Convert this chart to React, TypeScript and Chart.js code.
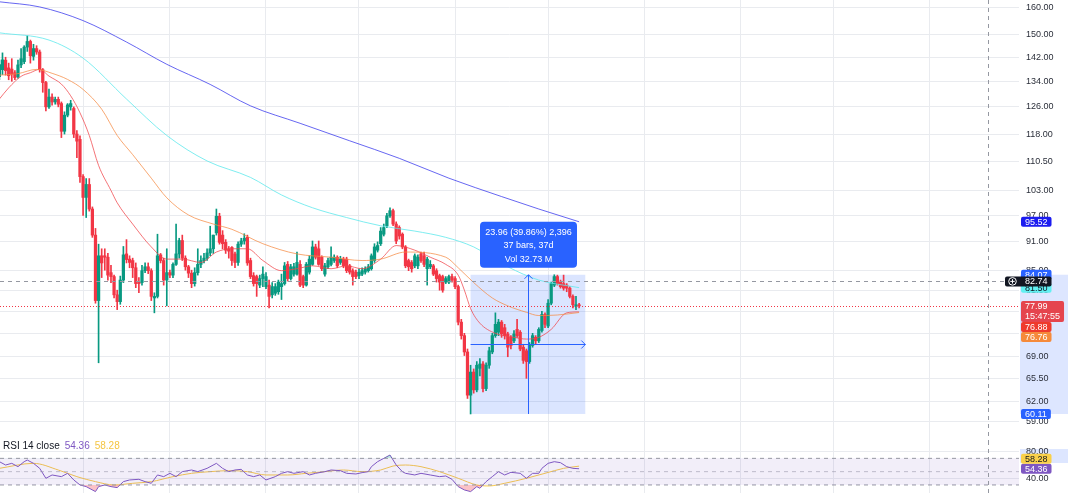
import React, { useEffect, useRef } from 'react';
import { Chart, registerables } from 'chart.js';

Chart.register(...registerables);

const FONT = "'Liberation Sans', Arial, sans-serif";
Chart.defaults.font.family = FONT;

// bar index = days relative to Feb 1
const FIRST_BAR = -27;

// [open, high, low, close]
const janBars: number[][] = [
  [135.5, 141.0, 134.5, 139.5], [137.8, 143.5, 136.2, 141.1], [141.0, 142.0, 136.0, 137.5],
  [138.4, 140.0, 134.5, 135.8], [138.0, 141.5, 134.0, 136.3], [136.8, 137.5, 134.5, 135.2],
  [135.5, 141.0, 135.0, 139.4], [139.4, 145.0, 138.5, 141.5], [140.5, 146.0, 139.8, 145.5],
  [145.5, 149.5, 144.0, 147.5], [147.5, 148.0, 140.0, 142.5], [142.3, 146.5, 141.0, 145.0],
  [145.0, 146.0, 143.0, 143.8], [143.8, 144.5, 137.0, 137.8], [137.8, 138.2, 130.5, 133.6],
  [133.6, 134.0, 124.8, 126.0], [126.0, 131.5, 125.5, 129.0], [129.0, 130.0, 126.5, 127.5],
  [127.5, 129.0, 126.8, 128.3], [128.3, 129.0, 126.0, 126.8], [127.0, 127.5, 117.0, 118.8],
  [118.8, 124.5, 118.0, 123.5], [123.5, 127.0, 123.0, 126.6], [126.0, 128.0, 125.0, 127.0],
  [125.5, 126.0, 117.0, 118.0], [118.0, 119.0, 111.5, 116.0], [116.5, 117.5, 105.0, 106.5],
];
const febBars: number[][] = [
  [106.5, 107.0, 97.0, 101.3], [101.3, 106.0, 96.5, 104.5], [104.5, 106.0, 98.0, 98.5],
  [98.5, 99.0, 92.0, 92.5], [92.5, 94.0, 78.5, 79.0], [79.0, 90.5, 68.0, 88.0],
  [88.0, 89.5, 83.5, 86.5], [88.0, 89.5, 85.0, 87.7], [87.7, 88.5, 83.0, 84.0],
  [84.5, 86.0, 82.5, 83.7], [83.7, 84.0, 79.5, 80.1], [80.1, 81.0, 77.3, 78.8],
  [78.8, 83.8, 78.3, 83.0], [83.0, 90.0, 82.5, 88.2], [88.4, 91.5, 86.5, 87.2],
  [87.3, 88.0, 85.5, 86.6], [87.0, 87.5, 83.5, 85.5], [85.5, 86.5, 81.5, 82.3],
  [82.6, 83.5, 80.5, 82.3], [82.5, 86.0, 82.0, 84.9], [84.9, 86.5, 84.5, 85.7],
  [85.7, 86.5, 84.3, 84.9], [84.9, 85.3, 79.0, 79.8], [79.5, 80.5, 76.7, 79.8],
  [79.8, 92.7, 79.5, 88.0], [88.2, 88.5, 86.5, 87.0], [87.0, 87.5, 82.0, 83.0],
  [83.0, 89.5, 78.0, 84.5],
];
const marBars: number[][] = [
  [84.5, 85.0, 83.5, 84.0], [84.0, 86.5, 83.5, 86.2], [86.2, 95.0, 86.0, 88.4],
  [88.4, 91.8, 87.5, 91.3], [91.3, 92.5, 87.0, 87.5], [87.5, 88.0, 85.0, 85.7],
  [85.7, 86.0, 83.5, 84.4], [84.4, 85.0, 81.5, 82.3], [82.3, 85.5, 81.8, 84.5],
  [84.5, 89.5, 84.0, 86.2], [86.2, 88.0, 85.5, 87.0], [87.0, 88.5, 86.5, 87.5],
  [87.5, 89.5, 87.0, 88.6], [88.6, 94.5, 88.0, 89.5], [89.5, 92.5, 88.5, 92.5],
  [93.0, 98.5, 92.5, 96.8], [96.8, 97.5, 90.5, 90.9], [92.5, 93.5, 89.5, 90.6],
  [90.9, 91.5, 88.5, 89.2], [89.5, 90.0, 87.5, 89.0], [89.8, 90.0, 86.0, 87.0],
  [88.4, 88.8, 85.5, 86.6], [86.6, 91.0, 86.0, 90.5], [90.5, 91.8, 90.0, 91.2],
  [91.2, 92.8, 90.5, 91.8], [92.0, 92.5, 86.0, 86.5], [87.0, 87.5, 83.3, 83.7],
  [83.9, 84.5, 81.8, 82.3], [83.7, 84.0, 79.8, 82.3], [82.0, 84.0, 81.5, 83.3],
  [83.3, 85.7, 81.7, 84.2],
];
const aprBars: number[][] = [
  [81.7, 84.5, 81.3, 83.7], [82.0, 83.0, 77.6, 79.8], [80.1, 82.5, 79.5, 81.7],
  [80.4, 82.3, 80.0, 81.7], [80.7, 83.0, 80.2, 82.6], [81.7, 84.2, 79.2, 82.3],
  [82.3, 86.6, 82.0, 85.9], [86.2, 86.8, 82.8, 83.3], [83.3, 86.2, 83.0, 85.7],
  [84.2, 86.4, 83.8, 85.7], [84.2, 88.8, 84.0, 86.6], [86.2, 87.0, 81.7, 82.0],
  [83.7, 84.0, 81.5, 82.0], [82.0, 86.6, 81.8, 86.2], [84.6, 88.0, 84.2, 87.3],
  [86.2, 91.2, 86.0, 89.9], [89.9, 90.5, 87.3, 87.7], [89.5, 91.2, 86.0, 86.2],
  [87.7, 88.0, 84.9, 85.3], [84.2, 86.4, 83.8, 85.9], [85.7, 87.5, 85.3, 87.0],
  [86.2, 89.9, 85.9, 87.7], [87.0, 88.2, 86.6, 87.7], [87.7, 88.0, 85.5, 85.9],
  [86.6, 87.9, 86.2, 87.3], [87.3, 87.7, 85.5, 85.9], [87.3, 87.7, 84.5, 84.9],
  [85.9, 86.2, 84.2, 84.6], [84.9, 85.3, 82.0, 83.7], [84.6, 85.0, 83.3, 83.7],
];
const mayBars: number[][] = [
  [83.9, 85.3, 83.3, 84.6], [84.2, 85.5, 83.9, 84.9], [84.6, 85.7, 84.2, 85.3],
  [84.9, 86.2, 84.6, 85.7], [85.3, 88.4, 85.0, 88.0], [87.0, 90.6, 86.6, 89.9],
  [89.2, 91.0, 88.8, 90.2], [90.6, 94.2, 90.2, 93.4], [92.7, 95.0, 92.3, 94.2],
  [94.6, 97.5, 94.2, 96.9], [96.9, 98.8, 96.5, 98.1], [98.1, 98.5, 94.6, 95.0],
  [95.0, 95.5, 90.6, 91.2], [94.2, 94.6, 91.6, 92.3], [92.7, 93.0, 89.5, 89.9],
  [89.9, 90.2, 85.5, 85.9], [87.0, 87.3, 84.9, 85.7], [86.6, 87.0, 84.6, 85.3],
  [85.9, 88.4, 85.5, 88.0], [85.9, 88.2, 85.3, 87.7], [88.4, 88.8, 86.6, 87.0],
  [88.0, 88.8, 85.7, 86.2], [85.3, 87.7, 82.0, 87.3], [85.7, 87.0, 85.3, 86.2],
  [85.9, 86.2, 83.9, 84.2], [84.9, 85.3, 82.6, 83.3], [83.9, 84.2, 81.0, 82.6],
  [83.7, 84.0, 80.6, 81.0], [82.6, 83.7, 82.3, 83.3], [82.6, 84.0, 82.3, 83.7],
  [83.7, 84.2, 82.6, 83.0],
];
const junBars: number[][] = [
  [83.3, 83.7, 81.3, 81.7], [81.7, 82.0, 74.5, 75.0], [75.0, 75.5, 72.0, 72.6],
  [72.6, 73.0, 69.2, 69.8], [69.8, 70.3, 62.4, 62.9], [62.9, 67.6, 60.11, 66.5],
  [66.5, 67.0, 63.2, 63.7], [63.7, 68.2, 63.4, 67.6], [67.1, 68.7, 65.9, 67.8],
  [67.8, 68.2, 63.4, 63.9], [63.9, 68.0, 63.6, 67.6], [67.6, 70.6, 67.1, 70.0],
  [69.8, 73.0, 69.5, 72.6], [72.6, 76.7, 72.3, 74.6], [73.2, 75.5, 72.6, 75.0],
  [75.0, 75.3, 72.3, 72.9], [74.0, 74.6, 72.0, 72.6], [72.9, 73.2, 69.0, 70.6],
  [72.3, 72.6, 70.3, 70.9], [71.7, 73.5, 71.4, 72.9], [73.7, 75.5, 72.3, 72.6],
  [73.2, 73.5, 70.0, 70.3], [70.6, 71.1, 67.9, 68.4], [70.0, 70.3, 65.5, 68.2],
  [68.2, 71.4, 67.9, 70.9], [70.9, 73.0, 70.6, 72.6], [72.3, 72.6, 71.1, 71.7],
  [71.7, 74.0, 71.4, 73.7], [73.5, 77.0, 73.2, 76.4], [76.4, 76.7, 74.0, 74.6],
];
const julBars: number[][] = [
  [74.3, 79.2, 74.0, 78.5], [78.5, 82.6, 78.2, 82.3], [82.0, 84.07, 81.7, 83.7],
  [83.7, 84.0, 82.0, 82.3], [82.6, 83.0, 81.4, 81.7], [82.3, 84.0, 81.0, 81.4],
  [82.0, 82.3, 80.7, 81.4], [81.4, 81.7, 79.5, 79.8], [79.8, 80.1, 77.6, 78.2],
  [77.9, 79.8, 77.3, 78.2], [78.2, 78.5, 77.6, 77.99],
];

// moving averages: [bar index, value]
const ema20: number[][] = [
  [-27, 128.4], [-24, 131.9], [-20, 135.6], [-17, 136.8], [-14, 137.9], [-11, 135.7], [-7, 133.1],
  [-4, 129.4], [-1, 124.2], [2, 117.6], [5, 109.4], [9, 103.0], [11, 100.0], [16, 95.0], [22, 89.9],
  [27, 87.3], [32, 87.3], [38, 86.6], [43, 88.8], [48, 89.5], [53, 89.5], [58, 87.0], [64, 84.9],
  [69, 85.3], [74, 85.9], [80, 85.3], [85, 85.9], [90, 85.3], [96, 87.3], [101, 90.2], [107, 89.2],
  [112, 87.7], [117, 86.2], [121, 84.0], [123, 81.0], [125, 77.5], [128, 74.8], [133, 73.0],
  [139, 72.3], [143, 72.0], [147, 72.3], [151, 73.7], [156, 76.7], [160, 76.88],
];
const ema50: number[][] = [
  [-27, 136.0], [-21, 136.5], [-15, 137.9], [-10, 136.6], [-5, 134.6], [0, 131.4], [6, 125.3],
  [11, 117.6], [16, 112.3], [22, 106.1], [27, 101.2], [34, 97.1], [42, 95.0], [48, 93.8], [58, 90.6],
  [69, 88.4], [80, 87.7], [90, 87.0], [96, 87.3], [104, 88.8], [117, 87.7], [121, 85.5], [126, 82.5],
  [132, 79.5], [137, 78.0], [143, 76.8], [147, 76.2], [153, 76.3], [160, 76.76],
];
const ema100: number[][] = [
  [-27, 150.6], [-11, 148.0], [0, 141.7], [14, 128.4], [27, 117.6], [40, 110.6], [54, 106.3],
  [64, 101.9], [74, 98.8], [85, 96.5], [96, 94.6], [107, 93.4], [117, 92.0], [126, 89.9],
  [137, 85.7], [147, 83.0], [160, 81.5],
];
const ema200: number[][] = [
  [-27, 162.3], [-14, 160.3], [0, 155.1], [14, 147.3], [27, 139.6], [41, 133.0], [54, 126.3],
  [70, 121.1], [86, 116.1], [102, 111.3], [118, 106.1], [135, 101.5], [147, 98.5], [160, 95.52],
];

// RSI 14 and its moving average: [bar index, value]
const rsi14: number[][] = [
  [-27, 65], [-25, 60], [-23, 62.5], [-21, 57.5], [-19, 65], [-18, 67.5], [-16, 62.5], [-14, 55],
  [-12, 40], [-10, 45], [-7, 42.5], [-5, 47.5], [-3, 37.5], [-1, 30], [1, 27.5], [4, 20], [5, 27.5],
  [7, 30], [9, 27.5], [11, 26], [13, 35], [15, 37.5], [18, 38.5], [20, 35], [22, 32.5], [24, 45],
  [26, 42.5], [28, 47.5], [30, 42.5], [32, 50], [35, 52.5], [37, 50], [40, 55], [43, 62.5], [45, 55],
  [47, 50], [49, 52.5], [51, 53.5], [53, 45], [55, 42.5], [57, 45], [59, 37.5], [62, 42.5], [64, 47.5],
  [66, 50], [68, 47.5], [71, 50], [73, 45], [75, 47.5], [78, 50], [80, 52.5], [83, 51.5], [85, 47.5],
  [88, 46.5], [90, 48.5], [92, 50], [93, 57.5], [95, 65], [97, 70], [99, 75], [101, 60], [103, 50],
  [104, 47.5], [107, 45], [109, 47.5], [112, 45], [115, 42.5], [117, 43.5], [119, 38.5], [121, 27.5],
  [123, 22.5], [125, 20], [127, 27.5], [128, 25], [130, 35], [132, 42.5], [134, 50], [136, 45],
  [138, 49], [141, 47.5], [143, 40], [145, 47.5], [147, 47.5], [148, 55], [150, 62.5], [152, 65],
  [154, 63.5], [156, 57.5], [158, 55], [160, 54.36],
];
const rsiMa: number[][] = [
  [-27, 55], [-16, 62.5], [-8, 52.5], [-2, 42.5], [4, 35], [10, 30], [16, 32.5], [22, 35], [29, 42.5],
  [35, 47.5], [41, 50], [47, 51.5], [53, 50], [59, 45], [66, 45], [72, 47.5], [78, 50], [84, 52.5],
  [90, 50], [96, 52.5], [100, 58.5], [104, 60], [109, 57.5], [115, 50], [121, 40], [127, 30],
  [131, 28.5], [136, 32.5], [143, 40], [149, 47.5], [155, 55], [160, 58.28],
];

const monthStarts = [0, 28, 59, 89, 120, 150, 181, 212, 242, 273];
const priceTicks = [160, 150, 142, 134, 126, 118, 110.5, 103, 97, 91, 85, 81, 77, 73, 69, 65.5, 62, 59];
const rsiTicks = [80, 40];
const rsiBands = [70, 50, 30];

const X_MIN = -26.8;
const X_MAX = 301.9;
const PRICE_MIN = 56.32;
const PRICE_MAX = 163.0;
const RSI_MIN = 17.9;
const RSI_MAX = 96.1;

const LAST_PRICE = 77.99;
const LAST_TIME = '15:47:55';
const CROSS_BAR = 292;
const CROSS_PRICE = 82.74;
const MEASURE_FROM = 125;
const MEASURE_TO = 162;
const MEASURE_LOW = 60.11;
const MEASURE_HIGH = 84.07;
const MEASURE_TEXT = ['23.96 (39.86%) 2,396', '37 bars, 37d', 'Vol 32.73 M'];
const RSI_VALUE = 54.36;
const RSI_MA_VALUE = 58.28;

const UP = '#089981';
const DOWN = '#f23645';
const GRID = '#e9ebef';
const AXIS_TEXT = '#2a2e39';
const MEASURE_BLUE = '#2962ff';

const bars = [...janBars, ...febBars, ...marBars, ...aprBars, ...mayBars, ...junBars, ...julBars];

function rr(ctx: CanvasRenderingContext2D, x: number, y: number, w: number, h: number, r: number) {
  ctx.beginPath();
  ctx.moveTo(x + r, y);
  ctx.lineTo(x + w - r, y);
  ctx.quadraticCurveTo(x + w, y, x + w, y + r);
  ctx.lineTo(x + w, y + h - r);
  ctx.quadraticCurveTo(x + w, y + h, x + w - r, y + h);
  ctx.lineTo(x + r, y + h);
  ctx.quadraticCurveTo(x, y + h, x, y + h - r);
  ctx.lineTo(x, y + r);
  ctx.quadraticCurveTo(x, y, x + r, y);
  ctx.closePath();
}

function drawBox(ctx: CanvasRenderingContext2D, x: number, top: number, lines: string[], bg: string, fg: string, extraLeft = 0) {
  ctx.font = `9px ${FONT}`;
  const w = Math.max(...lines.map((l) => ctx.measureText(l).width)) + 8;
  const h = lines.length * 10 + (lines.length > 1 ? 1 : 0);
  ctx.fillStyle = bg;
  rr(ctx, x - extraLeft, top, w + extraLeft, h, 2);
  ctx.fill();
  ctx.fillStyle = fg;
  ctx.textAlign = 'left';
  ctx.textBaseline = 'middle';
  lines.forEach((l, k) => ctx.fillText(l, x + 4, top + 5.5 + k * 10));
}

type Lab = { v: number; lines: string[]; bg: string; fg: string; top?: number };

function layoutLabels(scale: any, labs: Lab[], dir: 'down' | 'up') {
  labs.forEach((l) => {
    l.top = scale.getPixelForValue(l.v) - 5;
  });
  const h = (l: Lab) => l.lines.length * 10 + (l.lines.length > 1 ? 1 : 0);
  if (dir === 'down') {
    labs.sort((a, b) => (a.top as number) - (b.top as number));
    for (let k = 1; k < labs.length; k++) {
      const prevBottom = (labs[k - 1].top as number) + h(labs[k - 1]);
      if ((labs[k].top as number) < prevBottom) labs[k].top = prevBottom;
    }
  } else {
    labs.sort((a, b) => (b.top as number) - (a.top as number));
    for (let k = 1; k < labs.length; k++) {
      const prevTop = labs[k - 1].top as number;
      if ((labs[k].top as number) + h(labs[k]) > prevTop) labs[k].top = prevTop - h(labs[k]);
    }
  }
  return labs;
}

function dashedV(chart: any, value: number) {
  const { ctx, scales } = chart;
  const x = Math.round(scales.x.getPixelForValue(value)) + 0.5;
  ctx.save();
  ctx.strokeStyle = '#9598a1';
  ctx.lineWidth = 1;
  ctx.setLineDash([4, 4]);
  ctx.beginPath();
  ctx.moveTo(x, 0);
  ctx.lineTo(x, chart.height);
  ctx.stroke();
  ctx.restore();
}

const mainOverlay = {
  id: 'mainOverlay',
  beforeDraw(chart: any) {
    const { ctx, chartArea, scales } = chart;
    const yt = scales.y.getPixelForValue(MEASURE_HIGH);
    const yb = scales.y.getPixelForValue(MEASURE_LOW);
    ctx.save();
    ctx.fillStyle = 'rgba(41,98,255,0.16)';
    ctx.fillRect(chartArea.right + 1, yt, chart.width - chartArea.right - 1, yb - yt);
    ctx.restore();
  },
  beforeDatasetsDraw(chart: any) {
    const { ctx, scales } = chart;
    const xl = scales.x.getPixelForValue(MEASURE_FROM);
    const xr = scales.x.getPixelForValue(MEASURE_TO);
    const yt = scales.y.getPixelForValue(MEASURE_HIGH);
    const yb = scales.y.getPixelForValue(MEASURE_LOW);
    ctx.save();
    ctx.fillStyle = 'rgba(41,98,255,0.17)';
    ctx.fillRect(xl, yt, xr - xl, yb - yt);
    ctx.restore();
  },
  afterDatasetsDraw(chart: any) {
    const { ctx, chartArea, scales } = chart;
    const xs = scales.x;
    const ys = scales.y;
    const yp = Math.round(ys.getPixelForValue(LAST_PRICE)) + 0.5;
    ctx.save();
    ctx.strokeStyle = DOWN;
    ctx.lineWidth = 1;
    ctx.setLineDash([1, 2]);
    ctx.beginPath();
    ctx.moveTo(chartArea.left, yp);
    ctx.lineTo(chartArea.right, yp);
    ctx.stroke();
    const yc = Math.round(ys.getPixelForValue(CROSS_PRICE)) + 0.5;
    ctx.strokeStyle = '#9598a1';
    ctx.setLineDash([4, 4]);
    ctx.beginPath();
    ctx.moveTo(chartArea.left, yc);
    ctx.lineTo(chartArea.right - 13, yc);
    ctx.stroke();
    ctx.restore();
    dashedV(chart, CROSS_BAR);

    const xl = xs.getPixelForValue(MEASURE_FROM);
    const xr = xs.getPixelForValue(MEASURE_TO);
    const xm = Math.round((xl + xr) / 2) + 0.5;
    const yt = ys.getPixelForValue(MEASURE_HIGH);
    const yb = ys.getPixelForValue(MEASURE_LOW);
    const ym = Math.round((yt + yb) / 2) + 0.5;
    ctx.save();
    ctx.strokeStyle = MEASURE_BLUE;
    ctx.lineWidth = 1;
    ctx.beginPath();
    ctx.moveTo(xm, yb);
    ctx.lineTo(xm, yt);
    ctx.moveTo(xm - 4, yt + 4);
    ctx.lineTo(xm, yt);
    ctx.lineTo(xm + 4, yt + 4);
    ctx.moveTo(xl, ym);
    ctx.lineTo(xr, ym);
    ctx.moveTo(xr - 4, ym - 4);
    ctx.lineTo(xr, ym);
    ctx.lineTo(xr - 4, ym + 4);
    ctx.stroke();
    const tw = 97;
    const th = 46;
    const tb = yt - 7;
    ctx.fillStyle = MEASURE_BLUE;
    rr(ctx, xm - tw / 2, tb - th, tw, th, 4);
    ctx.fill();
    ctx.fillStyle = '#ffffff';
    ctx.font = `9px ${FONT}`;
    ctx.textAlign = 'center';
    ctx.textBaseline = 'middle';
    MEASURE_TEXT.forEach((t, k) => ctx.fillText(t, xm, tb - th + 10.5 + k * 13.5));
    ctx.restore();
  },
  afterDraw(chart: any) {
    const { ctx, chartArea, scales } = chart;
    const ys = scales.y;
    const x = chartArea.right + 2;
    const fmt = (v: number) => v.toFixed(2);
    const labs: Lab[] = [
      { v: ema200[ema200.length - 1][1], lines: [fmt(ema200[ema200.length - 1][1])], bg: '#1c1cf0', fg: '#ffffff' },
      { v: MEASURE_HIGH, lines: [fmt(MEASURE_HIGH)], bg: MEASURE_BLUE, fg: '#ffffff' },
      { v: ema100[ema100.length - 1][1], lines: [fmt(ema100[ema100.length - 1][1])], bg: '#62f0f2', fg: '#131722' },
      { v: LAST_PRICE, lines: [fmt(LAST_PRICE), LAST_TIME], bg: '#e5454e', fg: '#ffffff' },
      { v: ema20[ema20.length - 1][1], lines: [fmt(ema20[ema20.length - 1][1])], bg: '#ef3a2c', fg: '#ffffff' },
      { v: ema50[ema50.length - 1][1], lines: [fmt(ema50[ema50.length - 1][1])], bg: '#f58a3b', fg: '#ffffff' },
      { v: MEASURE_LOW, lines: [fmt(MEASURE_LOW)], bg: MEASURE_BLUE, fg: '#ffffff' },
    ];
    ctx.save();
    layoutLabels(ys, labs, 'down').forEach((l) => drawBox(ctx, x, l.top as number, l.lines, l.bg, l.fg));
    const ct = ys.getPixelForValue(CROSS_PRICE) - 5;
    drawBox(ctx, x, ct, [fmt(CROSS_PRICE)], '#131722', '#ffffff', 16);
    const cx = x - 8.5;
    const cy = ct + 5;
    ctx.strokeStyle = '#ffffff';
    ctx.lineWidth = 1;
    ctx.beginPath();
    ctx.arc(cx, cy, 3.8, 0, Math.PI * 2);
    ctx.moveTo(cx - 2.2, cy);
    ctx.lineTo(cx + 2.2, cy);
    ctx.moveTo(cx, cy - 2.2);
    ctx.lineTo(cx, cy + 2.2);
    ctx.stroke();
    ctx.restore();
  },
};

const rsiOverlay = {
  id: 'rsiOverlay',
  beforeDraw(chart: any) {
    const { ctx, chartArea, scales } = chart;
    const yt = scales.y.getPixelForValue(84);
    const yb = scales.y.getPixelForValue(63);
    ctx.save();
    ctx.fillStyle = 'rgba(41,98,255,0.16)';
    ctx.fillRect(chartArea.right + 1, yt, chart.width - chartArea.right - 1, yb - yt);
    ctx.restore();
  },
  afterDatasetsDraw(chart: any) {
    dashedV(chart, CROSS_BAR);
  },
  afterDraw(chart: any) {
    const { ctx, chartArea, scales } = chart;
    const x = chartArea.right + 2;
    const labs: Lab[] = [
      { v: RSI_MA_VALUE, lines: [RSI_MA_VALUE.toFixed(2)], bg: '#f9d04a', fg: '#131722' },
      { v: RSI_VALUE, lines: [RSI_VALUE.toFixed(2)], bg: '#7e57c2', fg: '#ffffff' },
    ];
    ctx.save();
    layoutLabels(scales.y, labs, 'up').forEach((l) => drawBox(ctx, x, l.top as number, l.lines, l.bg, l.fg));
    ctx.font = `10px ${FONT}`;
    ctx.textBaseline = 'middle';
    ctx.textAlign = 'left';
    let lx = 3;
    const parts: [string, string][] = [
      ['RSI 14 close', '#131722'],
      [RSI_VALUE.toFixed(2), '#7e57c2'],
      [RSI_MA_VALUE.toFixed(2), '#f5c542'],
    ];
    parts.forEach(([t, c]) => {
      ctx.fillStyle = c;
      ctx.fillText(t, lx, 5.5);
      lx += ctx.measureText(t).width + 5;
    });
    ctx.restore();
  },
};

function xScaleOptions() {
  return {
    type: 'linear' as const,
    min: X_MIN,
    max: X_MAX,
    bounds: 'data' as const,
    offset: false,
    grid: { color: GRID, drawTicks: false, offset: false, lineWidth: 1 },
    border: { display: false },
    ticks: { display: false },
    afterBuildTicks: (s: any) => {
      s.ticks = monthStarts.map((v) => ({ value: v }));
    },
    afterFit: (s: any) => {
      s.height = 0;
      s.paddingLeft = 0;
      s.paddingRight = 0;
    },
  };
}

function yAfterFit(s: any) {
  s.width = 49;
  s.paddingTop = 0;
  s.paddingBottom = 0;
}

const lineDs = (label: string, pts: number[][], color: string) => ({
  type: 'line' as const,
  label,
  data: pts.map((p) => ({ x: p[0], y: p[1] })),
  borderColor: color,
  borderWidth: 1,
  pointRadius: 0,
  cubicInterpolationMode: 'monotone' as const,
  order: 0,
});

export default function App() {
  const mainRef = useRef<HTMLCanvasElement>(null);
  const rsiRef = useRef<HTMLCanvasElement>(null);

  useEffect(() => {
    if (!mainRef.current || !rsiRef.current) return;
    const idx = (k: number) => FIRST_BAR + k;
    const colors = bars.map((b) => (b[3] >= b[0] ? UP : DOWN));

    const main = new Chart(mainRef.current, {
      type: 'bar',
      data: {
        datasets: [
          {
            label: 'wicks',
            data: bars.map((b, k) => ({ x: idx(k), y: [b[2], b[1]] })) as any,
            backgroundColor: colors,
            barThickness: 1,
            grouped: false,
            order: 3,
          },
          {
            label: 'bodies',
            data: bars.map((b, k) => ({ x: idx(k), y: [b[0], b[3]] })) as any,
            backgroundColor: colors,
            barThickness: 2.6,
            minBarLength: 1,
            grouped: false,
            order: 2,
          },
          lineDs('EMA 200', ema200, 'rgba(45,45,235,0.72)'),
          lineDs('EMA 100', ema100, 'rgba(95,232,236,0.8)'),
          lineDs('EMA 50', ema50, 'rgba(245,140,70,0.75)'),
          lineDs('EMA 20', ema20, 'rgba(240,70,75,0.75)'),
        ] as any,
      },
      options: {
        responsive: false,
        maintainAspectRatio: false,
        animation: false,
        devicePixelRatio: 1,
        events: [],
        layout: { padding: 0 },
        plugins: { legend: { display: false }, tooltip: { enabled: false } },
        scales: {
          x: xScaleOptions() as any,
          y: {
            type: 'logarithmic',
            position: 'right',
            min: PRICE_MIN,
            max: PRICE_MAX,
            bounds: 'data',
            grid: { color: GRID, drawTicks: false },
            border: { display: false },
            ticks: {
              autoSkip: false,
              padding: 7,
              color: AXIS_TEXT,
              font: { size: 9, family: FONT },
              callback: (v: any) => Number(v).toFixed(2),
            },
            afterBuildTicks: (s: any) => {
              s.ticks = priceTicks.map((v) => ({ value: v }));
            },
            afterFit: yAfterFit,
          } as any,
        },
      },
      plugins: [mainOverlay],
    });

    const edge = (v: number) => [
      { x: X_MIN, y: v },
      { x: X_MAX, y: v },
    ];
    const rsi = new Chart(rsiRef.current, {
      type: 'line',
      data: {
        datasets: [
          {
            label: 'upper',
            data: edge(rsiBands[0]),
            borderColor: '#9598a1',
            borderWidth: 1,
            borderDash: [4, 4],
            pointRadius: 0,
            fill: { value: rsiBands[2] },
            backgroundColor: 'rgba(126,87,194,0.1)',
          },
          {
            label: 'middle',
            data: edge(rsiBands[1]),
            borderColor: 'rgba(149,152,161,0.55)',
            borderWidth: 1,
            borderDash: [4, 4],
            pointRadius: 0,
            fill: false,
          },
          {
            label: 'lower',
            data: edge(rsiBands[2]),
            borderColor: '#9598a1',
            borderWidth: 1,
            borderDash: [4, 4],
            pointRadius: 0,
            fill: false,
          },
          {
            label: 'RSI overbought',
            data: rsi14.map((p) => ({ x: p[0], y: p[1] })),
            borderWidth: 0,
            borderColor: 'rgba(0,0,0,0)',
            pointRadius: 0,
            fill: { target: { value: rsiBands[0] }, above: 'rgba(8,153,129,0.25)', below: 'rgba(0,0,0,0)' },
          },
          {
            label: 'RSI',
            data: rsi14.map((p) => ({ x: p[0], y: p[1] })),
            borderColor: '#7e57c2',
            borderWidth: 1,
            pointRadius: 0,
            fill: { target: { value: rsiBands[2] }, above: 'rgba(0,0,0,0)', below: 'rgba(242,54,69,0.3)' },
          },
          {
            label: 'RSI MA',
            data: rsiMa.map((p) => ({ x: p[0], y: p[1] })),
            borderColor: '#f7c948',
            borderWidth: 1,
            pointRadius: 0,
            cubicInterpolationMode: 'monotone',
            fill: false,
          },
        ] as any,
      },
      options: {
        responsive: false,
        maintainAspectRatio: false,
        animation: false,
        devicePixelRatio: 1,
        events: [],
        layout: { padding: 0 },
        plugins: { legend: { display: false }, tooltip: { enabled: false } },
        scales: {
          x: xScaleOptions() as any,
          y: {
            type: 'linear',
            position: 'right',
            min: RSI_MIN,
            max: RSI_MAX,
            bounds: 'data',
            grid: { color: GRID, drawTicks: false },
            border: { display: false },
            ticks: {
              autoSkip: false,
              padding: 7,
              color: AXIS_TEXT,
              font: { size: 9, family: FONT },
              callback: (v: any) => Number(v).toFixed(2),
            },
            afterBuildTicks: (s: any) => {
              s.ticks = rsiTicks.map((v) => ({ value: v }));
            },
            afterFit: yAfterFit,
          } as any,
        },
      },
      plugins: [rsiOverlay],
    });

    return () => {
      main.destroy();
      rsi.destroy();
    };
  }, []);

  return (
    <div
      style={{
        position: 'fixed',
        left: 0,
        top: 0,
        width: 1068,
        height: 493,
        background: '#ffffff',
        overflow: 'hidden',
      }}
    >
      <canvas ref={mainRef} width={1068} height={441} style={{ position: 'absolute', left: 0, top: 0 }} />
      <canvas ref={rsiRef} width={1068} height={52} style={{ position: 'absolute', left: 0, top: 441 }} />
    </div>
  );
}
